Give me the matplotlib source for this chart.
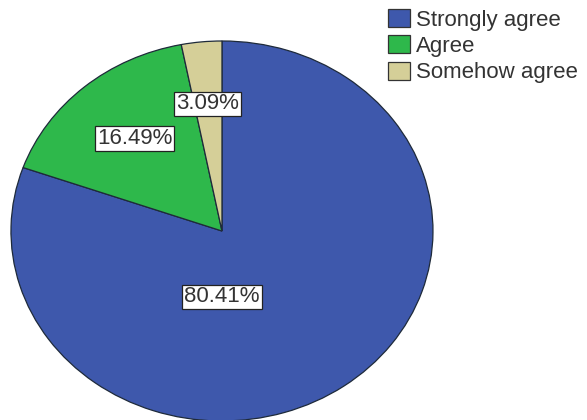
import matplotlib.pyplot as plt
from matplotlib.patches import Patch

# ================= data =================
categories = ["Strongly agree", "Agree", "Somehow agree"]
percents = [80.41, 16.49, 3.09]
colors = ["#3E58AC", "#2EB84B", "#D5CF98"]
# label box positions (SPSS places them freely, data units of the pie)
label_pos = [(0.0, -0.347), (-0.414, 0.488), (-0.069, 0.669)]
# ========================================

plt.rcParams['font.family'] = ['Liberation Sans', 'DejaVu Sans']

fig = plt.figure(figsize=(5.87, 4.2), dpi=100)
# pie is drawn stretched (ellipse), so axes aspect is not equal
ax = fig.add_axes([0.0187, -0.0024, 0.7189, 0.9048])

wedges, texts, autotexts = ax.pie(
    percents, colors=colors, startangle=90, counterclock=False,
    autopct=lambda p: f"{p:.2f}%",
    wedgeprops=dict(edgecolor="#1e2a3a", linewidth=0.9),
    textprops=dict(fontsize=16, color="#333333"))

for t, (x, y), v in zip(autotexts, label_pos, percents):
    t.set_text(f"{v:.2f}%")
    t.set_position((x, y))
    t.set_bbox(dict(boxstyle="square,pad=0.08", facecolor="white",
                    edgecolor="#222222", linewidth=0.9))

ax.set_aspect('auto')
ax.set_xlim(-1, 1)
ax.set_ylim(-1, 1)
ax.axis('off')

handles = [Patch(facecolor=c, edgecolor="#333333", linewidth=0.9) for c in colors]
fig.legend(handles, categories, loc="upper left", bbox_to_anchor=(388 / 587, 1 - 9 / 420),
           frameon=False, fontsize=16, handlelength=1.0, handleheight=0.85,
           handletextpad=0.25, labelspacing=0.22, borderpad=0.0, borderaxespad=0.0,
           labelcolor="#333333")

plt.savefig("out.png", dpi=100)
